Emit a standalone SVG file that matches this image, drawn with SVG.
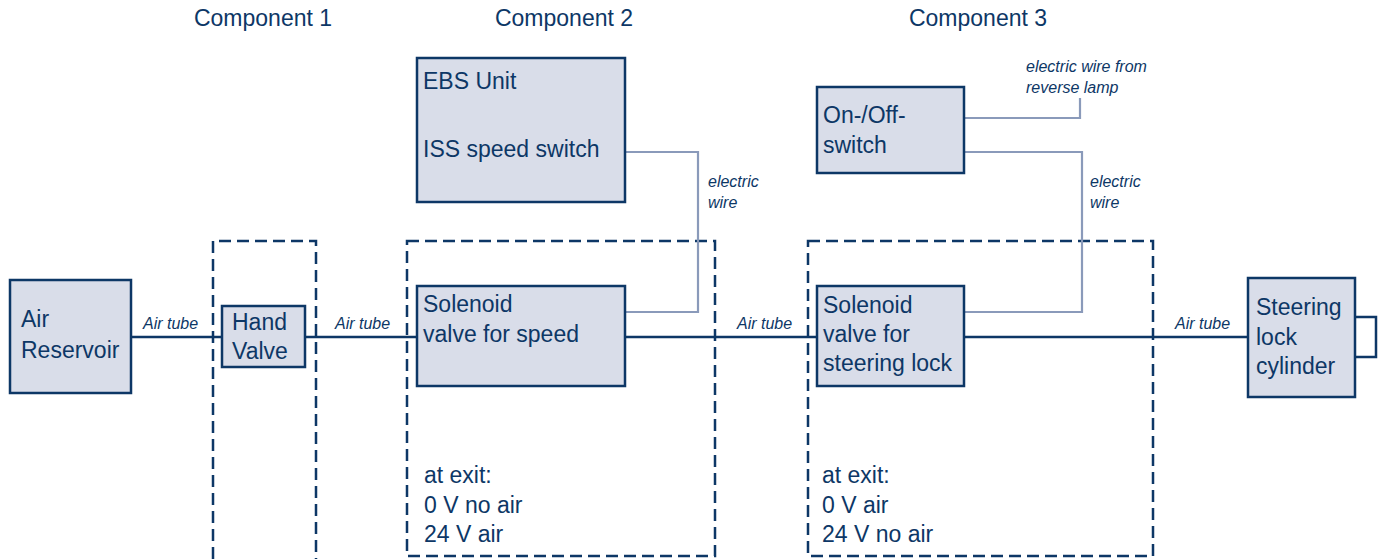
<svg xmlns="http://www.w3.org/2000/svg" width="1381" height="559" viewBox="0 0 1381 559">
<style>
text{font-family:"Liberation Sans",Arial,sans-serif;fill:#0d3766}
.t{font-size:23px}
.h{font-size:23px}
.l{font-size:16px;font-style:italic}
.box{fill:#d9dde9;stroke:#0d3766;stroke-width:2.5}
.dash{fill:none;stroke:#0d3766;stroke-width:2.5;stroke-dasharray:12 6}
.air{fill:none;stroke:#0d3766;stroke-width:2.5}
.wire{fill:none;stroke:#8a9aba;stroke-width:2.2}
</style>
<rect width="1381" height="559" fill="#ffffff"/>
<g id="titles">
<text class="h" x="263" y="26" text-anchor="middle">Component 1</text>
<text class="h" x="564" y="26" text-anchor="middle">Component 2</text>
<text class="h" x="978" y="26" text-anchor="middle">Component 3</text>
</g>
<g id="component1"><path class="dash" d="M213,559 V241 H316 V559"/></g>
<g id="component2"><rect class="dash" x="407" y="241" width="308" height="315"/>
<text class="t" x="424" y="483">at exit:</text>
<text class="t" x="424" y="513">0 V no air</text>
<text class="t" x="424" y="542">24 V air</text>
</g>
<g id="component3"><rect class="dash" x="808" y="241" width="345" height="315"/>
<text class="t" x="822" y="483">at exit:</text>
<text class="t" x="822" y="513">0 V air</text>
<text class="t" x="822" y="542">24 V no air</text>
</g>
<g id="connectors">
<path class="air" d="M131,337 H222"/>
<path class="air" d="M305,337 H417"/>
<path class="air" d="M625,337 H817"/>
<path class="air" d="M964,337 H1248"/>
<path class="wire" d="M625,152 H698 V312 H625"/>
<path class="wire" d="M964,118 H1080 V98"/>
<path class="wire" d="M964,152 H1082 V312 H964"/>
<text class="l" x="143" y="329">Air tube</text>
<text class="l" x="335" y="329">Air tube</text>
<text class="l" x="737" y="329">Air tube</text>
<text class="l" x="1175" y="329">Air tube</text>
<text class="l" x="708" y="187">electric</text>
<text class="l" x="708" y="208">wire</text>
<text class="l" x="1090" y="187">electric</text>
<text class="l" x="1090" y="208">wire</text>
<text class="l" x="1026" y="72">electric wire from</text>
<text class="l" x="1026" y="93">reverse lamp</text>
</g>
<g id="air-reservoir"><rect class="box" x="10" y="280" width="121" height="113"/>
<text class="t" x="21" y="327">Air</text><text class="t" x="21" y="358">Reservoir</text></g>
<g id="hand-valve"><rect class="box" x="222" y="306" width="83" height="61"/>
<text class="t" x="232" y="330">Hand</text><text class="t" x="232" y="359">Valve</text></g>
<g id="ebs-unit"><rect class="box" x="417" y="58" width="208" height="144"/>
<text class="t" x="423" y="89">EBS Unit</text><text class="t" x="423" y="157">ISS speed switch</text></g>
<g id="solenoid-speed"><rect class="box" x="417" y="286" width="208" height="100"/>
<text class="t" x="423" y="312">Solenoid</text><text class="t" x="423" y="342">valve for speed</text></g>
<g id="onoff-switch"><rect class="box" x="817" y="87" width="147" height="86"/>
<text class="t" x="823" y="123">On-/Off-</text><text class="t" x="823" y="153">switch</text></g>
<g id="solenoid-steering"><rect class="box" x="817" y="286" width="147" height="100"/>
<text class="t" x="823" y="313">Solenoid</text><text class="t" x="823" y="342">valve for</text><text class="t" x="823" y="371">steering lock</text></g>
<g id="steering-cylinder"><rect class="box" x="1248" y="278" width="107" height="119"/>
<path class="air" d="M1355,317 H1376 V357 H1355"/>
<text class="t" x="1256" y="315">Steering</text><text class="t" x="1256" y="345">lock</text><text class="t" x="1256" y="374">cylinder</text></g>
</svg>
